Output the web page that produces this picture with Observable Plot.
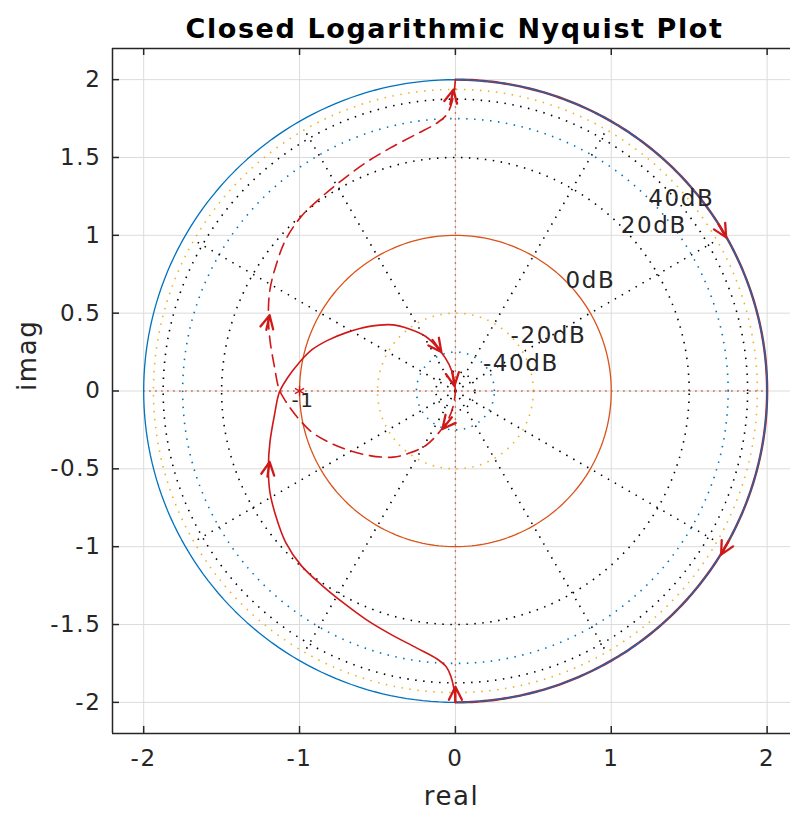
<!DOCTYPE html>
<html><head><meta charset="utf-8">
<script src="https://cdn.jsdelivr.net/npm/d3@7"></script>
<script src="https://cdn.jsdelivr.net/npm/@observablehq/plot@0.6"></script>
<style>
html,body{margin:0;padding:0;background:#fff;}
#chart svg text{letter-spacing:1.6px;}
</style></head><body><div id="chart"></div>
<script>
// ---------- axes ----------
const xTicks = [-2, -1, 0, 1, 2];
const xTickLabels = ["-2", "-1", "0", "1", "2"];
const yTicks = [-2, -1.5, -1, -0.5, 0, 0.5, 1, 1.5, 2];
const yTickLabels = ["-2", "-1.5", "-1", "-0.5", "0", "0.5", "1", "1.5", "2"];
const xDomain = [-2.2, 2.15];
const yDomain = [-2.2, 2.2];
const titleText = "Closed Logarithmic Nyquist Plot";
const xLabel = "real";
const yLabel = "imag";

// ---------- closed-log magnitude circles ----------
const solidCircleRadii = [2, 1];
const solidCircleColors = ["#0072BD", "#D95319"];
const dottedCircleRadii = [0.125, 0.25, 0.5, 1.5, 1.75, 1.875, 1.9375];
const dottedCircleColors = ["#000000", "#0072BD", "#EDB120", "#000000", "#0072BD", "#000000", "#EDB120"];
const rayAngles = [30, 60, 120, 150, 210, 240, 300, 330];
const rayRadius = 1.94;
const axisLineRadius = 2;

const dbLabels = ["-40dB", "-20dB", "0dB", "20dB", "40dB"];
const dbLabelRadii = [0.25, 0.5, 1, 1.5, 1.75];
const dbLabelAngle = 45;

// ---------- Nyquist curve (positive frequencies) ----------
const nyqRe = [0, -0.01, -0.03, -0.06, -0.12, -0.25, -0.42, -0.57, -0.72, -0.86, -0.99, -1.09, -1.15, -1.19, -1.2, -1.19, -1.16, -1.13, -1.08, -1.0, -0.92, -0.82, -0.7, -0.55, -0.4, -0.3, -0.19, -0.1, -0.04, -0.01, 0];
const nyqIm = [-2.0, -1.91, -1.83, -1.77, -1.72, -1.65, -1.56, -1.47, -1.36, -1.245, -1.12, -0.97, -0.81, -0.65, -0.49, -0.33, -0.15, -0.01, 0.08, 0.185, 0.265, 0.325, 0.375, 0.415, 0.425, 0.4, 0.35, 0.26, 0.17, 0.08, 0];

// infinite semicircle mapped onto the r = 2 circle
const arcRadius = 2;
const arcFrom = 90;
const arcTo = -90;

// critical point
const criticalRe = [-1];
const criticalIm = [0];
const criticalLabel = ["-1"];

// direction arrows (tail -> tip)
const arrowTailX = [0, -1.205, -0.147, -0.019, 1.677, 1.766, -1.212, -0.026, -0.032];
const arrowTailY = [-1.99, -0.545, 0.327, 0.115, 1.09, -0.94, 0.397, -0.173, 1.846];
const arrowTipX  = [0, -1.192, -0.09, -0.006, 1.737, 1.705, -1.192, -0.083, -0.013];
const arrowTipY  = [-1.90, -0.455, 0.25, 0.032, 0.987, -1.051, 0.487, -0.244, 1.936];

// ---------- build ----------
const RED = "#d01818";
const DARK = "#262626";
function arcPts(r, a0, a1, n = 240) {
  const pts = [];
  for (let i = 0; i <= n; i++) {
    const a = (a0 + (a1 - a0) * i / n) * Math.PI / 180;
    pts.push({x: r * Math.cos(a), y: r * Math.sin(a)});
  }
  return pts;
}
const solidCurve = nyqRe.map((re, i) => ({x: re, y: nyqIm[i]}));
const dashedCurve = solidCurve.map(p => ({x: p.x, y: -p.y}));
const rays = rayAngles.map(a => ({a, x2: rayRadius * Math.cos(a * Math.PI / 180), y2: rayRadius * Math.sin(a * Math.PI / 180)}));
const dbData = dbLabels.map((t, i) => ({t, x: dbLabelRadii[i] * Math.cos(dbLabelAngle * Math.PI / 180), y: dbLabelRadii[i] * Math.sin(dbLabelAngle * Math.PI / 180)}));
const arrows = arrowTipX.map((x, i) => ({x, y: arrowTipY[i], rot: Math.atan2(x - arrowTailX[i], arrowTipY[i] - arrowTailY[i]) * 180 / Math.PI}));
const critical = criticalRe.map((x, i) => ({x, y: criticalIm[i], t: criticalLabel[i]}));

const yArrow = {
  draw(ctx, l) {
    ctx.moveTo(0, 0); ctx.lineTo(0, -l);
    ctx.moveTo(-6.5, -l + 13); ctx.lineTo(0, -l); ctx.lineTo(6.5, -l + 13);
  }
};
const dots = {strokeDasharray: "1.5 6.5", strokeWidth: 1.6, strokeLinecap: "butt"};

const plot = Plot.plot({
  width: 790, height: 814,
  marginLeft: 112, marginRight: 0, marginTop: 48, marginBottom: 81,
  x: {domain: xDomain, axis: null},
  y: {domain: yDomain, axis: null},
  style: {fontFamily: "DejaVu Sans", color: DARK, background: "#fff"},
  marks: [
    // grid
    Plot.ruleX(xTicks, {stroke: "#dcdcdc", strokeWidth: 1}),
    Plot.ruleY(yTicks, {stroke: "#dcdcdc", strokeWidth: 1}),
    // dotted magnitude circles
    ...dottedCircleRadii.map((r, i) => Plot.line(arcPts(r, 0, 360), {x: "x", y: "y", stroke: dottedCircleColors[i], ...dots})),
    // dotted phase rays
    Plot.link(rays, {x1: 0, y1: 0, x2: "x2", y2: "y2", stroke: "#000", ...dots}),
    Plot.ruleY([0], {x1: -axisLineRadius, x2: axisLineRadius, stroke: "#c0603a", strokeDasharray: "1.5 4.5", strokeWidth: 1.4}),
    Plot.ruleX([0], {y1: -axisLineRadius, y2: axisLineRadius, stroke: "#c0603a", strokeDasharray: "1.5 4.5", strokeWidth: 1.4}),
    // infinite arc (red) under the outer circle
    Plot.line(arcPts(arcRadius, arcFrom, arcTo), {x: "x", y: "y", stroke: RED, strokeWidth: 2.4}),
    // solid circles
    ...solidCircleRadii.map((r, i) => Plot.line(arcPts(r, 0, 360), {x: "x", y: "y", stroke: solidCircleColors[i], strokeWidth: 1.3})),
    // Nyquist curves
    Plot.line(solidCurve, {x: "x", y: "y", stroke: RED, strokeWidth: 1.6, curve: "catmull-rom"}),
    Plot.line(dashedCurve, {x: "x", y: "y", stroke: RED, strokeWidth: 1.6, strokeDasharray: "12 7", curve: "catmull-rom"}),
    // arrows
    Plot.vector(arrows, {x: "x", y: "y", rotate: "rot", length: 15, anchor: "end", shape: yArrow, stroke: RED, strokeWidth: 2.3}),
    // critical point
    Plot.dot(critical, {x: "x", y: "y", symbol: "asterisk", r: 5, stroke: RED, strokeWidth: 1.3}),
    Plot.text(critical, {x: "x", y: "y", text: "t", textAnchor: "start", dx: -8, dy: 10, fontSize: 20, fill: DARK}),
    // dB labels
    Plot.text(dbData, {x: "x", y: "y", text: "t", textAnchor: "start", fontSize: 23, fill: DARK}),
    // frame
    Plot.ruleX([xDomain[0]], {stroke: DARK, strokeWidth: 1.5}),
    Plot.ruleY([yDomain[0], yDomain[1]], {stroke: DARK, strokeWidth: 1.5}),
    // inward ticks
    Plot.ruleX(xTicks, {y1: yDomain[0], y2: yDomain[0], insetTop: -7, stroke: DARK, strokeWidth: 1.5}),
    Plot.ruleX(xTicks, {y1: yDomain[1], y2: yDomain[1], insetBottom: -7, stroke: DARK, strokeWidth: 1.5}),
    Plot.ruleY(yTicks, {x1: xDomain[0], x2: xDomain[0], insetRight: -7, stroke: DARK, strokeWidth: 1.5}),
    // tick labels
    Plot.text(xTicks, {x: d => d, text: (d, i) => xTickLabels[i], frameAnchor: "bottom", dy: 32, fontSize: 23, fill: DARK}),
    Plot.text(yTicks, {y: d => d, text: (d, i) => yTickLabels[i], frameAnchor: "left", dx: -11, textAnchor: "end", fontSize: 23, fill: DARK}),
    // axis labels & title
    Plot.text([xLabel], {text: d => d, frameAnchor: "bottom", dy: 71, fontSize: 26, fill: DARK}),
    Plot.text([yLabel], {text: d => d, frameAnchor: "left", dx: -85, rotate: -90, fontSize: 26, fill: DARK}),
    Plot.text([titleText], {text: d => d, frameAnchor: "top", dy: -30, dx: 3, fontSize: 27, fontWeight: "bold", fill: "#000"})
  ]
});
document.getElementById("chart").append(plot);
</script></body></html>
